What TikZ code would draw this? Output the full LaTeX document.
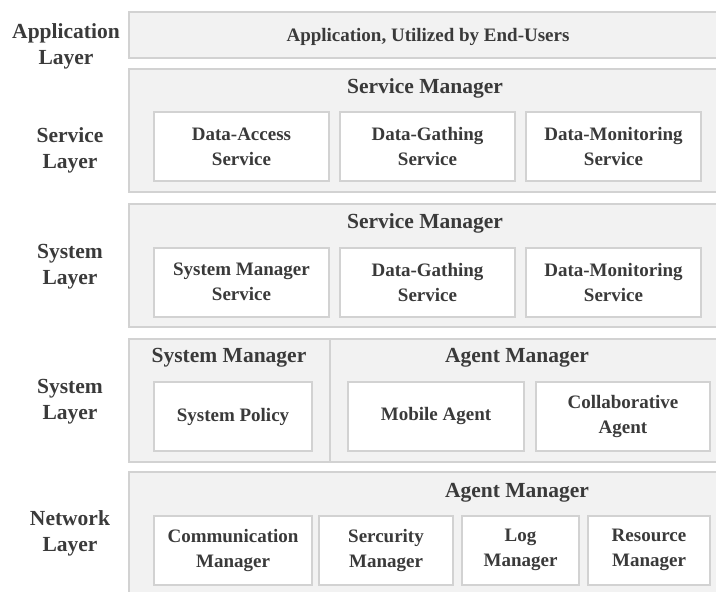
\documentclass[tikz,border=0pt]{standalone}
\usepackage{fontspec}
\setmainfont{Liberation Serif}
\usepackage{tikz}
\usetikzlibrary{
    positioning,
    backgrounds
}
\definecolor{lineGray}{HTML}{D2D2D2}
\definecolor{panelGray}{HTML}{F2F2F2}
\definecolor{txtGray}{HTML}{3A3A3A}
\newcommand{\bxfont}{\fontsize{19}{25}\selectfont\bfseries}
\newcommand{\ttlfont}{\fontsize{21.5}{26}\selectfont\bfseries}
\newcommand{\lyrfont}{\fontsize{21.5}{26}\selectfont\bfseries}
\tikzset{
  panel/.style = {draw=lineGray, fill=panelGray, line width=2pt,
                  anchor=north west, inner sep=0pt},
  box/.style   = {draw=lineGray, fill=white, line width=2pt,
                  minimum height=69pt, align=center, inner sep=2pt,
                  text=txtGray, font=\bxfont},
  ttl/.style   = {text=txtGray, font=\ttlfont, inner sep=1pt},
  lyr/.style   = {text=txtGray, font=\lyrfont, align=center, inner sep=1pt}
}

\begin{document}
\begin{tikzpicture}[x=1pt, y=-1pt]
\useasboundingbox (0,0) rectangle (716,592);

% layer names
\node[lyr] (lApp) at (66,46)  {Application\\Layer};
\node[lyr] (lSrv) at (70,150) {Service\\Layer};
\node[lyr] (lSys) at (70,267) {System\\Layer};
\node[lyr] (lSysB) at (70,402) {System\\Layer};
\node[lyr] (lNet) at (70,533) {Network\\Layer};

% panels
\node[panel, minimum width=600pt, minimum height=46pt]  (pApp) at (128,11) {};
\node[panel, minimum width=600pt, minimum height=123pt] (pSrv) at (128,68) {};
\node[panel, minimum width=600pt, minimum height=123pt] (pSys) at (128,203) {};
\node[panel, minimum width=201pt, minimum height=123pt] (pSysL) at (128,338) {};
\node[panel, minimum width=400pt, minimum height=123pt] (pSysR) at (329,338) {};
\node[panel, minimum width=600pt, minimum height=140pt] (pNet) at (128,471) {};

% titles
\node[ttl] (tApp) at (428,37) {\bxfont Application, Utilized by End-Users};
\node[ttl] (tSrv) at (425,88)  {Service Manager};
\node[ttl] (tSys) at (425,223) {Service Manager};
\node[ttl] (tSysL) at (229,358) {System Manager};
\node[ttl] (tSysR) at (517,358) {Agent Manager};
\node[ttl] (tNet) at (517,493) {Agent Manager};

% service layer
\node[box, minimum width=175pt] (dAcc) at (241.5,146.5) {Data-Access\\Service};
\node[box, minimum width=175pt, right=9pt of dAcc] (dGat) {Data-Gathing\\Service};
\node[box, minimum width=175pt, right=9pt of dGat] (dMon) {Data-Monitoring\\Service};

% system layer
\node[box, minimum width=175pt] (sMgr) at (241.5,282) {System Manager\\Service};
\node[box, minimum width=175pt, right=9pt of sMgr] (sGat) {Data-Gathing\\Service};
\node[box, minimum width=175pt, right=9pt of sGat] (sMon) {Data-Monitoring\\Service};

% system layer, managers
\node[box, minimum width=158pt] (pol) at (233,416.5) {System Policy};
\node[box, minimum width=176pt] (mob) at (436,416.5) {Mobile Agent};
\node[box, minimum width=174pt, right=10pt of mob] (col) {Collaborative\\Agent};

% network layer
\node[box, minimum width=158pt] (com) at (233,550) {Communication\\Manager};
\node[box, minimum width=134pt, right=5pt of com] (sec) {Sercurity\\Manager};
\node[box, minimum width=117pt, right=7pt of sec] (log) {Log\\Manager};
\node[box, minimum width=122pt, right=7pt of log] (res) {Resource\\Manager};

\end{tikzpicture}
\end{document}
